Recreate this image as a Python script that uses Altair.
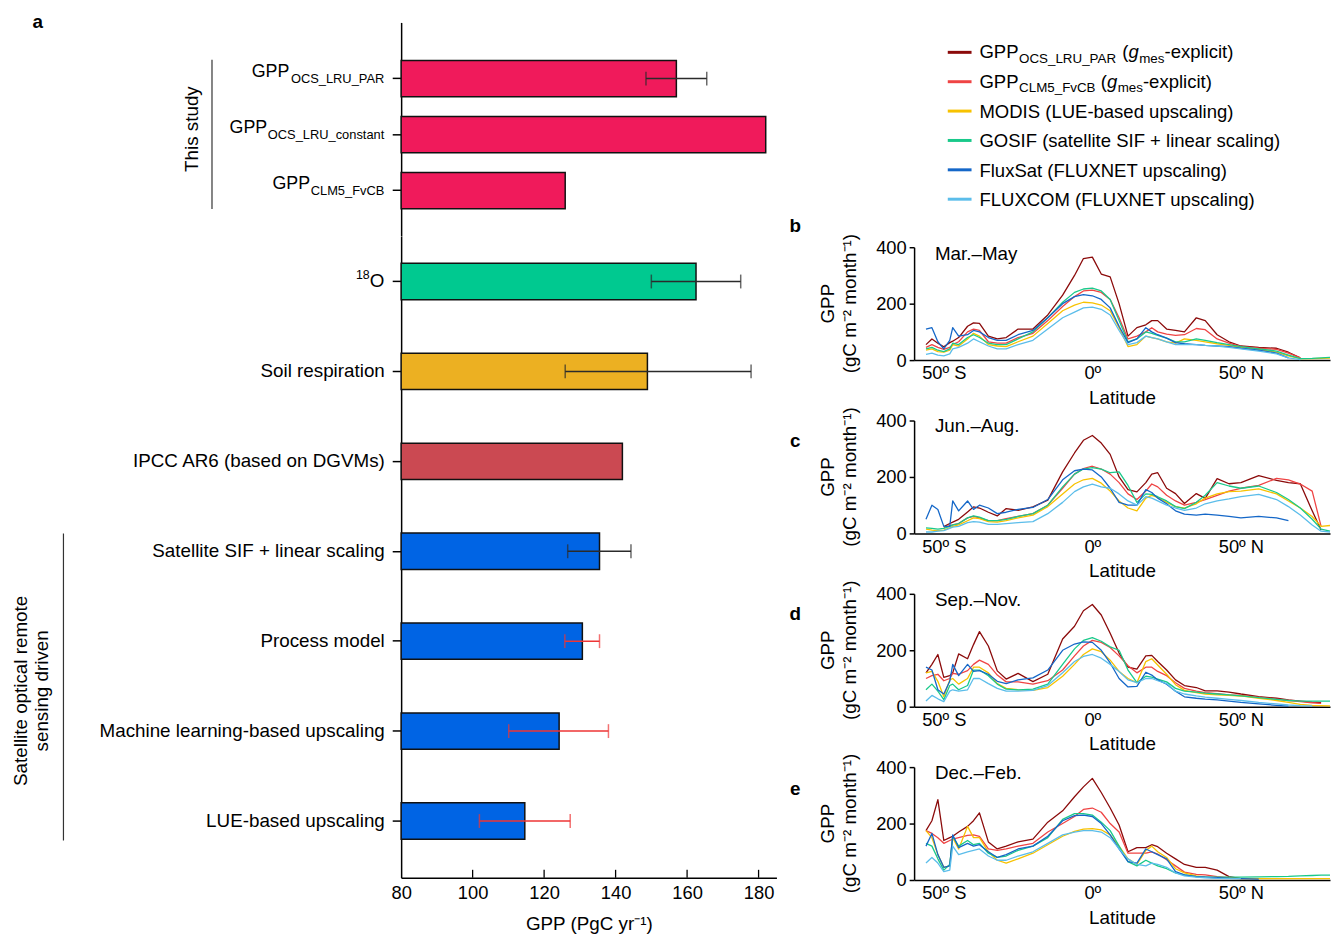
import altair as alt
import pandas as pd

FONT = "Liberation Sans"

# ---------------- panel a: global GPP estimates (PgC yr-1) ----------------
BAR_LABELS_TOP = ["GPP_OCS_LRU_PAR", "GPP_OCS_LRU_constant", "GPP_CLM5_FvCB"]
BAR_GPP_TOP = [157.0, 182.0, 125.9]
ERR_LOW_TOP = [148.5, None, None]
ERR_HIGH_TOP = [165.5, None, None]

BAR_LABELS_BOTTOM = ["18O", "Soil respiration", "IPCC AR6 (based on DGVMs)",
                     "Satellite SIF + linear scaling", "Process model",
                     "Machine learning-based upscaling", "LUE-based upscaling"]
BAR_GPP_BOTTOM = [162.5, 148.9, 141.9, 135.5, 130.7, 124.2, 114.6]
ERR_LOW_BOTTOM = [150.0, 125.9, None, 126.6, 125.8, 110.1, 101.9]
ERR_HIGH_BOTTOM = [175.0, 177.9, None, 144.3, 135.5, 138.0, 127.3]

GPP_TICKS = [80, 100, 120, 140, 160, 180]

# ---------------- panels b-e: zonal GPP (gC m-2 month-1) ----------------
SERIES = ["GPP_OCS_LRU_PAR", "GPP_CLM5_FvCB", "MODIS", "GOSIF", "FluxSat", "FLUXCOM"]
LEGEND_NAMES = ["GPP_OCS_LRU_PAR (g_mes-explicit)", "GPP_CLM5_FvCB (g_mes-explicit)",
                "MODIS (LUE-based upscaling)", "GOSIF (satellite SIF + linear scaling)",
                "FluxSat (FLUXNET upscaling)", "FLUXCOM (FLUXNET upscaling)"]
SEASONS = ["Mar.–May", "Jun.–Aug.", "Sep.–Nov.", "Dec.–Feb."]
LAT_TICKS = [-50, 0, 50]
GPP_LINE_TICKS = [0, 200, 400]

LAT = [-56, -54, -52, -50, -48, -47, -45, -42, -40, -38,
       -35, -32, -29, -25, -20, -15, -10, -6, -3, 0,
       3, 6, 9, 12, 15, 18, 20, 22, 25, 28,
       31, 35, 38, 42, 46, 50, 56, 62, 66, 70,
       74, 77, 80]

N = None
MAM_OCS = [55, 75, 60, 47, 62, 67, 80, 120, 132, 130, 85, 75, 80, 110, 110, 160, 230, 300, 360, 365,
           305, 295, 200, 85, 115, 125, 140, 140, 110, 105, 100, 150, 140, 90, 65, 50, 45, 42, 28, 8, N, N, N]
MAM_CLM = [45, 55, 45, 38, 45, 55, 65, 100, 110, 105, 65, 60, 60, 80, 95, 140, 190, 225, 245, 248,
           240, 215, 150, 75, 85, 100, 115, 100, 92, 88, 90, 112, 108, 75, 60, 48, 42, 38, 25, 8, N, N, N]
MAM_MODIS = [35, 40, 30, 28, 35, 55, 50, 75, 95, 85, 55, 50, 48, 65, 85, 130, 175, 195, 205, 203,
             195, 175, 115, 48, 55, 85, 80, 75, 65, 60, 75, 70, 65, 58, 52, 45, 38, 28, 15, 5, 5, 6, 7]
MAM_GOSIF = [40, 45, 35, 30, 40, 60, 55, 80, 90, 80, 60, 55, 55, 75, 100, 150, 205, 240, 252, 255,
             245, 215, 140, 65, 75, 100, 95, 88, 78, 65, 65, 75, 70, 62, 55, 48, 40, 32, 18, 5, 6, 8, 10]
MAM_FLUXSAT = [110, 115, 65, 40, 70, 115, 85, 90, 105, 100, 80, 70, 70, 90, 105, 150, 200, 225, 232, 228,
               215, 185, 120, 62, 75, 115, 100, 90, 78, 62, 58, 55, 52, 50, 48, 42, 35, 25, 8, N, N, N, N]
MAM_FLUXCOM = [20, 25, 18, 15, 22, 40, 45, 60, 75, 65, 50, 40, 40, 55, 70, 110, 150, 170, 185, 188,
               180, 160, 105, 55, 62, 85, 80, 75, 65, 55, 55, 55, 52, 50, 45, 40, 32, 22, 8, 2, N, N, N]

JJA_OCS = [N, N, N, 24, 35, 40, 50, 76, 94, 90, 75, 62, 88, 82, 94, 118, 218, 285, 330, 347,
           320, 280, 200, 155, 147, 180, 210, 215, 160, 141, 106, 141, 124, 194, 176, 180, 205, 188, 180, 176, 80, 12, N]
JJA_CLM = [N, N, N, 20, 28, 30, 35, 55, 60, 55, 45, 45, 52, 60, 70, 100, 160, 210, 230, 238,
           228, 210, 180, 140, 120, 150, 175, 165, 135, 115, 100, 110, 120, 135, 150, 160, 170, 195, 190, 175, 150, 25, N]
JJA_MODIS = [15, 12, 10, 12, 20, 25, 30, 45, 55, 52, 42, 40, 45, 55, 65, 95, 140, 175, 190, 195,
             178, 150, 115, 90, 80, 125, 135, 128, 110, 95, 90, 105, 125, 140, 148, 150, 158, 140, 115, 90, 60, 25, 28]
JJA_GOSIF = [20, 18, 15, 18, 25, 30, 35, 55, 62, 58, 45, 45, 50, 60, 70, 100, 165, 210, 228, 233,
             228, 215, 218, 170, 110, 140, 138, 130, 115, 95, 88, 110, 135, 180, 168, 160, 168, 145, 120, 90, 50, 15, 8]
JJA_FLUXSAT = [50, 100, 85, 25, 25, 115, 80, 115, 85, 100, 90, 70, 75, 85, 92, 120, 190, 222, 228, 225,
               200, 160, 110, 100, 100, 155, 145, 125, 105, 80, 68, 65, 68, 65, 60, 55, 60, 55, 45, N, N, N, N]
JJA_FLUXCOM = [5, 5, 8, 10, 18, 22, 25, 38, 42, 40, 32, 32, 35, 38, 42, 70, 110, 148, 165, 175,
               165, 160, 140, 115, 100, 130, 125, 115, 100, 90, 82, 90, 105, 115, 122, 130, 138, 120, 95, 65, 30, 8, 5]

SON_OCS = [120, 150, 185, 104, 110, 120, 187, 170, 220, 266, 215, 127, 98, 118, 89, 115, 240, 285, 340, 362,
           325, 260, 190, 140, 133, 180, 182, 160, 130, 95, 75, 68, 56, 56, 52, 45, 36, 30, 24, 20, 16, 14, N]
SON_CLM = [100, 110, 115, 92, 100, 118, 115, 128, 150, 165, 150, 112, 88, 88, 80, 92, 130, 180, 215, 235,
           228, 210, 180, 145, 120, 140, 140, 125, 110, 85, 65, 55, 50, 46, 42, 40, 33, 27, 22, 18, 14, 12, N]
SON_MODIS = [120, 125, 90, 35, 95, 100, 80, 100, 140, 140, 120, 82, 65, 60, 58, 68, 108, 150, 185, 205,
             195, 165, 125, 100, 85, 160, 170, 148, 115, 78, 58, 50, 45, 42, 40, 38, 30, 22, 15, 8, 5, 4, 3]
SON_GOSIF = [60, 80, 55, 25, 75, 80, 60, 75, 130, 130, 110, 80, 62, 60, 62, 80, 150, 205, 235, 245,
             232, 212, 200, 130, 85, 108, 105, 98, 88, 65, 55, 52, 48, 45, 42, 38, 32, 26, 22, 20, 20, 20, 20]
SON_FLUXSAT = [140, 130, 60, 45, 90, 150, 110, 150, 125, 128, 115, 90, 82, 95, 102, 130, 200, 222, 230, 228,
               200, 155, 100, 70, 72, 122, 112, 95, 80, 55, 35, 30, 27, 24, 20, 15, 10, 5, 2, N, N, N, N]
SON_FLUXCOM = [20, 40, 28, 18, 55, 60, 55, 60, 100, 100, 82, 65, 55, 55, 58, 75, 120, 160, 178, 185,
               172, 150, 125, 95, 85, 100, 100, 92, 82, 55, 45, 38, 34, 30, 26, 22, 15, 10, 6, 4, 3, N, N]

DJF_OCS = [175, 210, 285, 140, 150, 155, 170, 190, 210, 238, 135, 110, 120, 135, 145, 205, 245, 295, 330, 360,
           310, 255, 195, 100, 115, 115, 125, 118, 95, 75, 55, 45, 45, 35, 12, 5, 5, N, N, N, N, N, N]
DJF_CLM = [175, 165, 150, 130, 140, 145, 150, 158, 160, 155, 110, 105, 110, 120, 130, 170, 200, 225, 250, 255,
           240, 200, 170, 95, 95, 95, 100, 92, 72, 50, 28, 20, 18, 12, 8, 5, N, N, N, N, N, N, N]
DJF_MODIS = [175, 150, 90, 45, 50, 150, 110, 190, 150, 150, 100, 70, 60, 75, 95, 125, 155, 172, 180, 182,
             178, 160, 120, 75, 55, 105, 120, 100, 80, 40, 25, 15, 10, 8, 6, 5, 5, 5, 5, 5, 5, 5, 5]
DJF_GOSIF = [130, 120, 75, 35, 55, 155, 120, 140, 125, 130, 95, 80, 85, 105, 120, 150, 215, 235, 235, 230,
             205, 175, 120, 65, 50, 70, 60, 50, 40, 25, 18, 12, 10, 10, 10, 10, 11, 12, 13, 15, 16, 17, 17]
DJF_FLUXSAT = [120, 165, 90, 45, 50, 160, 115, 130, 120, 125, 100, 80, 90, 110, 120, 155, 210, 228, 230, 225,
               200, 160, 110, 65, 60, 110, 100, 90, 75, 30, 18, 12, 10, 8, 6, 5, 3, N, N, N, N, N, N]
DJF_FLUXCOM = [60, 80, 60, 30, 35, 120, 90, 100, 105, 110, 85, 70, 70, 85, 100, 130, 160, 170, 175, 175,
               170, 150, 110, 75, 55, 50, 60, 55, 45, 25, 15, 10, 8, 6, 5, 5, N, N, N, N, N, N, N]

SEASON_DATA = [
    [MAM_OCS, MAM_CLM, MAM_MODIS, MAM_GOSIF, MAM_FLUXSAT, MAM_FLUXCOM],
    [JJA_OCS, JJA_CLM, JJA_MODIS, JJA_GOSIF, JJA_FLUXSAT, JJA_FLUXCOM],
    [SON_OCS, SON_CLM, SON_MODIS, SON_GOSIF, SON_FLUXSAT, SON_FLUXCOM],
    [DJF_OCS, DJF_CLM, DJF_MODIS, DJF_GOSIF, DJF_FLUXSAT, DJF_FLUXCOM],
]

# ---------------- styles ----------------
FILL_TOP = ["#F01A5B", "#F01A5B", "#F01A5B"]
FILL_BOTTOM = ["#00C990", "#ECB022", "#CB4952", "#0064E4", "#0064E4", "#0064E4", "#0064E4"]
ERRC_TOP = ["#2B2B2B", "#2B2B2B", "#2B2B2B"]
ERRC_BOTTOM = ["#2B2B2B", "#2B2B2B", "#2B2B2B", "#2B2B2B", "#EE3535", "#EE3535", "#EE3535"]
LINE_COLORS = ["#8B0A0A", "#EF4444", "#F7C200", "#19C98A", "#1467C8", "#5BBDEA"]
FS = 19          # main text size
FS_LEG = 18.7    # legend text size

# Arial / Liberation Sans advance widths (per 1000 em) for placing sub/superscripts
_W = {" ": 278, "(": 333, ")": 333, "-": 333, "_": 556, "+": 584, ".": 278}
_W.update({d: 556 for d in "0123456789"})
_W.update(dict(zip("ABCDEFGHIJKLMNOPQRSTUVWXYZ",
                   [667, 667, 722, 722, 667, 611, 778, 722, 278, 500, 667, 556, 833,
                    722, 778, 667, 778, 722, 667, 611, 722, 667, 944, 667, 667, 611])))
_W.update(dict(zip("abcdefghijklmnopqrstuvwxyz",
                   [556, 556, 500, 556, 556, 278, 556, 556, 222, 222, 500, 222, 833,
                    556, 556, 556, 556, 333, 500, 278, 556, 500, 722, 500, 500, 500])))


def tw(s, size):
    return sum(_W.get(c, 556) for c in s) * size / 1000.0


ONE = pd.DataFrame({"k": [0]})
XSCALE = alt.Scale(domain=[80, 185], nice=False, zero=False)
H1, H2, WA = 215.7, 647.7, 379
MARK_Y = -10  # invisible layout anchor shared by both columns


def anchor(x1, x2):
    # invisible rule that pins the top/side extent of a column for the outer layout
    return alt.Chart(ONE).mark_rule(color="white", strokeOpacity=0, strokeWidth=1).encode(
        x=alt.value(x1), x2=alt.value(x2), y=alt.value(MARK_Y))


def bar_df(labels, vals, lo, hi, fills, errc):
    return pd.DataFrame({"label": labels, "gpp": vals, "lo": lo, "hi": hi,
                         "fill": fills, "errc": errc})


def bar_panel(df, labels, pi, po, al, bottom):
    yaxis = alt.Axis(title=None, tickSize=9, tickWidth=1.5, tickColor="black",
                     domainColor="black", domainWidth=1.5, labelPadding=8,
                     labelFontSize=FS, labelLimit=500, labelColor="black",
                     labels=bottom,
                     labelExpr=("datum.value == '18O' ? '' : (datum.value == "
                                "'Machine learning-based upscaling' ? datum.value + '\u00a0' : datum.value)"))
    Y = alt.Y("label:N", scale=alt.Scale(domain=labels, paddingInner=pi, paddingOuter=po,
                                         align=al, round=False),
              sort=labels, axis=yaxis)
    if bottom:
        xaxis = alt.Axis(values=GPP_TICKS, tickSize=0, labelPadding=6, labelFontSize=18.5,
                         labelFlush=False, labelColor="black", domainColor="black", domainWidth=1.5,
                         title="GPP (PgC yr⁻¹)", titleFontSize=FS, titleFontWeight="normal",
                         titleColor="black", titlePadding=13, grid=False)
    else:
        xaxis = None

    def X(f):
        return alt.X(f + ":Q", scale=XSCALE, axis=xaxis)

    base = alt.Chart(df)
    bars = base.mark_bar(stroke="#111111", strokeWidth=1.5).encode(
        x=X("gpp"), x2=alt.datum(80), y=Y, color=alt.Color("fill:N", scale=None))
    errs = base.transform_filter("isValid(datum.lo)")
    err_line = errs.mark_rule(strokeWidth=1.5).encode(
        x=X("lo"), x2="hi:Q", y=Y, color=alt.Color("errc:N", scale=None))
    cap_lo = errs.mark_tick(thickness=1.5, size=14).encode(
        x=X("lo"), y=Y, color=alt.Color("errc:N", scale=None))
    cap_hi = errs.mark_tick(thickness=1.5, size=14).encode(
        x=X("hi"), y=Y, color=alt.Color("errc:N", scale=None))
    return [bars, err_line, cap_lo, cap_hi], Y, X


# ---- top group (This study)
top_df = bar_df(BAR_LABELS_TOP, BAR_GPP_TOP, ERR_LOW_TOP, ERR_HIGH_TOP, FILL_TOP, ERRC_TOP)
top_layers, Y_top, X_top = bar_panel(top_df, BAR_LABELS_TOP, 0.352, 0.582, 0.583, False)
for lab in BAR_LABELS_TOP:
    main, sub = lab.split("_", 1)
    d = alt.Chart(top_df).transform_filter(alt.datum.label == lab)
    top_layers.append(d.mark_text(align="right", baseline="alphabetic", fontSize=13, dy=4.3).encode(
        x=alt.value(-17), y=Y_top, text=alt.value(sub)))
    top_layers.append(d.mark_text(align="right", baseline="alphabetic", fontSize=18, dy=-1.7).encode(
        x=alt.value(-17 - tw(sub, 13) - 0.5), y=Y_top, text=alt.value(main)))
top_layers.append(alt.Chart(ONE).mark_text(fontSize=19, fontWeight="bold", align="center",
                                           baseline="middle").encode(
    x=alt.value(-367), y=alt.value(0), text=alt.value("a")))
top_layers.append(alt.Chart(ONE).mark_text(fontSize=FS, angle=270, align="center",
                                           baseline="middle").encode(
    x=alt.value(-211), y=alt.value(107.7), text=alt.value("This study")))
top_layers.append(alt.Chart(ONE).mark_rule(strokeWidth=1.2, color="#333333").encode(
    x=alt.value(-191), y=alt.value(37.7), y2=alt.value(188.4)))
top_layers.append(anchor(0, 380))
topA = alt.layer(*top_layers).properties(width=WA, height=H1)

# ---- bottom group
bot_df = bar_df(BAR_LABELS_BOTTOM, BAR_GPP_BOTTOM, ERR_LOW_BOTTOM, ERR_HIGH_BOTTOM, FILL_BOTTOM, ERRC_BOTTOM)
bot_layers, Y_bot, X_bot = bar_panel(bot_df, BAR_LABELS_BOTTOM, 0.596, 0.3645, 0.412, True)
d18 = alt.Chart(bot_df).transform_filter(alt.datum.label == "18O")
bot_layers.append(d18.mark_text(align="right", baseline="alphabetic", fontSize=FS, dy=5.5).encode(
    x=alt.value(-17), y=Y_bot, text=alt.value("O")))
bot_layers.append(d18.mark_text(align="right", baseline="alphabetic", fontSize=12.5, dy=-3).encode(
    x=alt.value(-17 - tw("O", FS)), y=Y_bot, text=alt.value("18")))
bot_layers.append(alt.Chart(pd.DataFrame({"gpp": GPP_TICKS[1:]})).mark_rule(
    strokeWidth=1.3, color="black").encode(x=X_bot("gpp"), y=alt.value(H2 - 8), y2=alt.value(H2)))
bot_layers.append(alt.Chart(ONE).mark_text(fontSize=FS, angle=270, align="center",
                                           baseline="middle").encode(
    x=alt.value(-384), y=alt.value(459), text=alt.value("Satellite optical remote")))
bot_layers.append(alt.Chart(ONE).mark_text(fontSize=FS, angle=270, align="center",
                                           baseline="middle").encode(
    x=alt.value(-363), y=alt.value(459), text=alt.value("sensing driven")))
bot_layers.append(alt.Chart(ONE).mark_rule(strokeWidth=1.2, color="#333333").encode(
    x=alt.value(-341), y=alt.value(300), y2=alt.value(610)))
botA = alt.layer(*bot_layers).properties(width=WA, height=H2)

colA = alt.vconcat(topA, botA, spacing=0, bounds="flush").resolve_scale(y="independent")

# ---------------- legend ----------------
COLOR = alt.Color("series:N", scale=alt.Scale(domain=SERIES, range=LINE_COLORS), legend=None)
leg_df = pd.DataFrame({"series": SERIES, "name": LEGEND_NAMES})
YL = alt.Y("series:N", scale=alt.Scale(type="point", domain=SERIES, range=[30.2, 178.5], padding=0),
           axis=None)
leg_layers = [
    alt.Chart(leg_df).mark_rule(strokeWidth=3).encode(
        x=alt.value(34), x2=alt.value(58), y=YL, color=COLOR),
    alt.Chart(leg_df).transform_filter(
        alt.FieldOneOfPredicate(field="series", oneOf=SERIES[2:])).mark_text(
        align="left", baseline="alphabetic", fontSize=FS_LEG, dy=7).encode(
        x=alt.value(66), y=YL, text="name:N"),
]
for s in SERIES[:2]:
    sub = s.split("_", 1)[1]
    d = alt.Chart(leg_df).transform_filter(alt.datum.series == s)
    x = 66.0
    pieces = []
    pieces.append(("GPP", FS_LEG, "normal", 6, x)); x += tw("GPP", FS_LEG) + 0.5
    pieces.append((sub, 13.5, "normal", 10.5, x)); x += tw(sub, 13.5) + tw(" ", FS_LEG)
    pieces.append(("(", FS_LEG, "normal", 6, x)); x += tw("(", FS_LEG)
    pieces.append(("g", FS_LEG, "italic", 6, x)); x += tw("g", FS_LEG) + 0.5
    pieces.append(("mes", 13.5, "normal", 10.5, x)); x += tw("mes", 13.5)
    pieces.append(("-explicit)", FS_LEG, "normal", 6, x))
    for txt, fs, style, dy, px in pieces:
        leg_layers.append(d.mark_text(align="left", baseline="alphabetic", fontSize=fs,
                                      fontStyle=style, dy=dy).encode(
            x=alt.value(px), y=YL, text=alt.value(txt)))
leg_layers.append(anchor(-130, 0))
legend = alt.layer(*leg_layers).properties(width=420, height=165.7)

# ---------------- seasonal panels ----------------
LAT_EXPR = ("datum.value == 0 ? '0º' : (datum.value < 0 ? abs(datum.value) + 'º S' "
            ": datum.value + 'º N')")


def season_df(cols):
    rows = []
    for s, vals in zip(SERIES, cols):
        assert len(vals) == len(LAT), (s, len(vals))
        for la, v in zip(LAT, vals):
            if v is not None:
                rows.append({"series": s, "lat": la, "gpp": v})
    return pd.DataFrame(rows)


LETTERS = ["b", "c", "d", "e"]
LETTER_Y = [-21, 21, 20, 22]
SEASON_Y = [7, 6, 6, 6]


def season_panel(i):
    df = season_df(SEASON_DATA[i])
    x = alt.X("lat:Q", scale=alt.Scale(domain=[-60, 80], nice=False, zero=False),
              axis=alt.Axis(values=LAT_TICKS, labelExpr=LAT_EXPR, title="Latitude", tickSize=0,
                            labelPadding=4, titlePadding=6, labelFontSize=18.5, titleFontSize=FS,
                            labelFlush=False, titleFontWeight="normal", labelColor="black",
                            titleColor="black", domainColor="black", domainWidth=1.5, grid=False))
    y = alt.Y("gpp:Q", scale=alt.Scale(domain=[0, 400], nice=False, zero=True),
              axis=alt.Axis(values=GPP_LINE_TICKS, title=None, tickSize=5, tickWidth=1.5,
                            tickColor="black", labelPadding=3, labelFontSize=18.5,
                            labelColor="black", domainColor="black", domainWidth=1.5, grid=False))
    lines = alt.Chart(df).mark_line(strokeWidth=1.3, strokeJoin="round").encode(
        x=x, y=y, color=COLOR)
    t = alt.Chart(ONE)
    layers = [
        lines,
        t.mark_text(align="left", baseline="middle", fontSize=FS).encode(
            x=alt.value(21), y=alt.value(SEASON_Y[i]), text=alt.value(SEASONS[i])),
        t.mark_text(align="center", baseline="middle", fontSize=19, fontWeight="bold").encode(
            x=alt.value(-120), y=alt.value(LETTER_Y[i]), text=alt.value(LETTERS[i])),
        t.mark_text(align="center", baseline="middle", fontSize=FS, angle=270).encode(
            x=alt.value(-87), y=alt.value(57), text=alt.value("GPP")),
        t.mark_text(align="center", baseline="middle", fontSize=FS, angle=270).encode(
            x=alt.value(-65), y=alt.value(57), text=alt.value("(gC m⁻² month⁻¹)")),
    ]
    return alt.layer(*layers).properties(width=420, height=114)


colB = alt.vconcat(legend, *[season_panel(i) for i in range(4)], spacing=61,
                   bounds="flush").resolve_scale(y="independent")

chart = alt.hconcat(colA, colB, spacing=8).resolve_scale(
    x="independent", y="independent", color="independent"
).properties(padding={"left": 4, "top": 0, "right": 0, "bottom": 0}).configure(
    font=FONT).configure_view(stroke=None).configure_text(font=FONT, color="black")

chart.save("out.html", embed_options={"renderer": "svg", "actions": False})
